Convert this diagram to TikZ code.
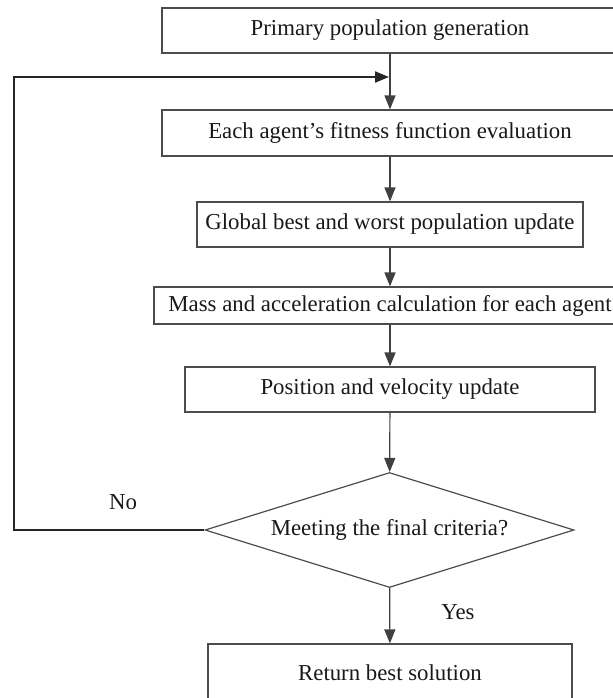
\documentclass[tikz,border=0pt]{standalone}
\usepackage{fontspec}
\setmainfont{Liberation Serif}
\usetikzlibrary{arrows.meta,positioning,shapes.geometric}

\begin{document}
\begin{tikzpicture}[x=0.5pt,y=-0.5pt,>={Triangle[length=7pt,width=5.5pt]},
    font=\fontsize{11.4pt}{13pt}\selectfont,
    stepbox/.style={draw=black!70,line width=0.6pt,inner sep=0pt,text=black!90},
    flow/.style={->,draw=black!75,line width=0.6pt},
    loopline/.style={->,draw=black!85,line width=1pt}]
    \useasboundingbox (0,0) rectangle (613,698);
    \clip (0,0) rectangle (613,698);
    \node[stepbox,minimum width=228pt,minimum height=22.5pt] (gen) at (390,30.5) {Primary population generation};
    \node[stepbox,minimum width=228pt,minimum height=23pt] (eval) at (390,133) {Each agent’s fitness function evaluation};
    \node[stepbox,minimum width=193pt,minimum height=22.5pt] (best) at (390,224.5) {Global best and worst population update};
    \node[stepbox,minimum width=236pt,minimum height=18.5pt] (mass) at (390,305.5) {Mass and acceleration calculation for each agent};
    \node[stepbox,minimum width=205pt,minimum height=22.5pt] (pos) at (390,389.5) {Position and velocity update};
    \node[stepbox,diamond,aspect=3.2,minimum width=184.5pt,minimum height=57.5pt] (crit) at (389.5,530) {Meeting the final criteria?};
    \node[stepbox,minimum width=182pt,minimum height=28.5pt] (ret) at (390,672.5) {Return best solution};
    \node[text=black!90] (no) at (123,502) {No};
    \node[text=black!90] (yes) at (458,612) {Yes};
    \coordinate (join) at (389,77);
    \coordinate (back) at (14,530);
    \draw[flow] (gen) -- (eval);
    \draw[flow] (eval) -- (best);
    \draw[flow] (best) -- (mass);
    \draw[flow] (mass) -- (pos);
    \draw[flow] (pos) -- (crit);
    \draw[flow] (crit) -- (ret);
    \draw[loopline] (crit.west) -- (back) |- (join);
\end{tikzpicture}
\end{document}
